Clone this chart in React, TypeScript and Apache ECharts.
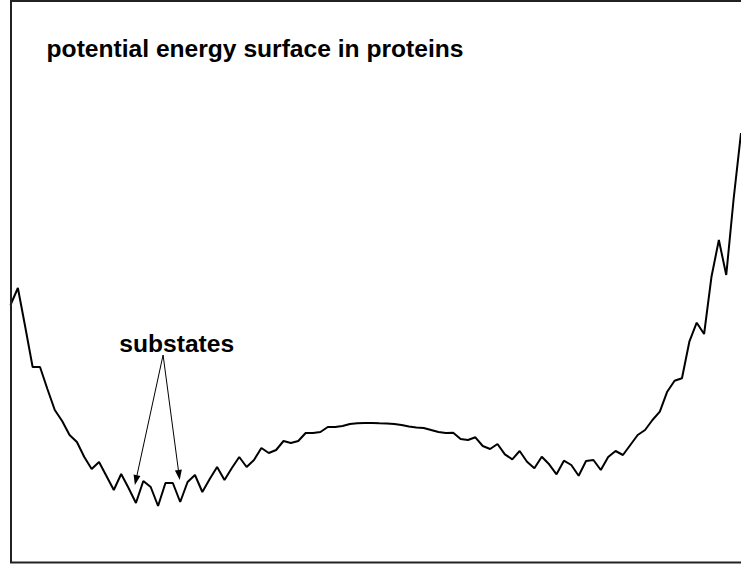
import React, { useEffect, useRef } from "react";
import * as echarts from "echarts";

// Potential energy (arbitrary units) sampled along the conformational coordinate
const energy: number[] = [
  260, 277, 238, 198, 198, 176, 155, 144, 130, 123,
  108, 96, 103, 89, 75, 91, 77, 62, 84, 78,
  59, 82, 82, 63, 83, 90, 73, 86, 98, 85,
  97, 108, 98, 105, 117, 112, 115, 124, 122, 124,
  132, 132, 133, 138, 138, 139, 141, 141.7, 142, 142,
  141.7, 141.5, 141, 140, 138.5, 137.5, 137, 135, 133, 132,
  132.3, 126, 125, 127.7, 119, 116, 121, 110.7, 105.7, 114,
  103.3, 96.7, 108.3, 100.7, 90.7, 104.3, 100, 89.3, 104, 105,
  95, 108, 114, 110, 120, 130, 135, 145, 153.3, 173.3,
  184.3, 186.7, 223.3, 242.3, 231, 288.3, 325, 290, 366, 432,
];
const coordinate: number[] = energy.map((_, i) => i);

const titleText = "potential energy surface in proteins";
const annotationText = "substates";
// arrow start (shared) and the two arrow heads, in data coordinates [coordinate, energy]
const arrowFrom: number[] = [20.68, 210];
const arrowHeads: number[][] = [
  [17.0, 84.9],
  [22.84, 90],
];

const FONT = '"Liberation Sans", Arial, Helvetica, sans-serif';

export default function App() {
  const ref = useRef<HTMLDivElement>(null);
  useEffect(() => {
    if (!ref.current) return;
    const chart = echarts.init(ref.current, undefined, { renderer: "svg" });
    chart.setOption({
      animation: false,
      backgroundColor: "#ffffff",
      grid: { left: 10.5, top: 0, width: 731.6, height: 565 },
      xAxis: { type: "value", min: 0, max: 99, show: false },
      yAxis: { type: "value", min: 0, max: 565, show: false },
      series: [
        {
          type: "line",
          data: coordinate.map((x, i) => [x, energy[i]]),
          symbol: "none",
          lineStyle: { color: "#000", width: 2 },
          clip: true,
          markLine: {
            silent: true,
            symbol: ["none", "triangle"],
            symbolSize: [7, 10],
            label: { show: false },
            lineStyle: { color: "#000", width: 1, type: "solid" },
            itemStyle: { color: "#000" },
            data: arrowHeads.map((h) => [
              { coord: arrowFrom },
              { coord: h },
            ]),
          },
        },
      ],
      graphic: [
        {
          type: "rect",
          silent: true,
          shape: { x: 11, y: 1, width: 800, height: 561.5 },
          style: { fill: "none", stroke: "#222", lineWidth: 2 },
          z: 10,
        },
        {
          type: "text",
          silent: true,
          style: {
            x: 46.6,
            y: 48,
            text: titleText,
            font: `bold 24.6px ${FONT}`,
            fill: "#000",
            verticalAlign: "middle",
            align: "left",
          },
        },
        {
          type: "text",
          silent: true,
          style: {
            x: 119.3,
            y: 343.5,
            text: annotationText,
            font: `bold 24.6px ${FONT}`,
            fill: "#000",
            verticalAlign: "middle",
            align: "left",
          },
        },
      ],
    });
    return () => chart.dispose();
  }, []);
  return (
    <div
      ref={ref}
      style={{ position: "fixed", left: 0, top: 0, width: 741, height: 565, background: "#fff" }}
    />
  );
}
